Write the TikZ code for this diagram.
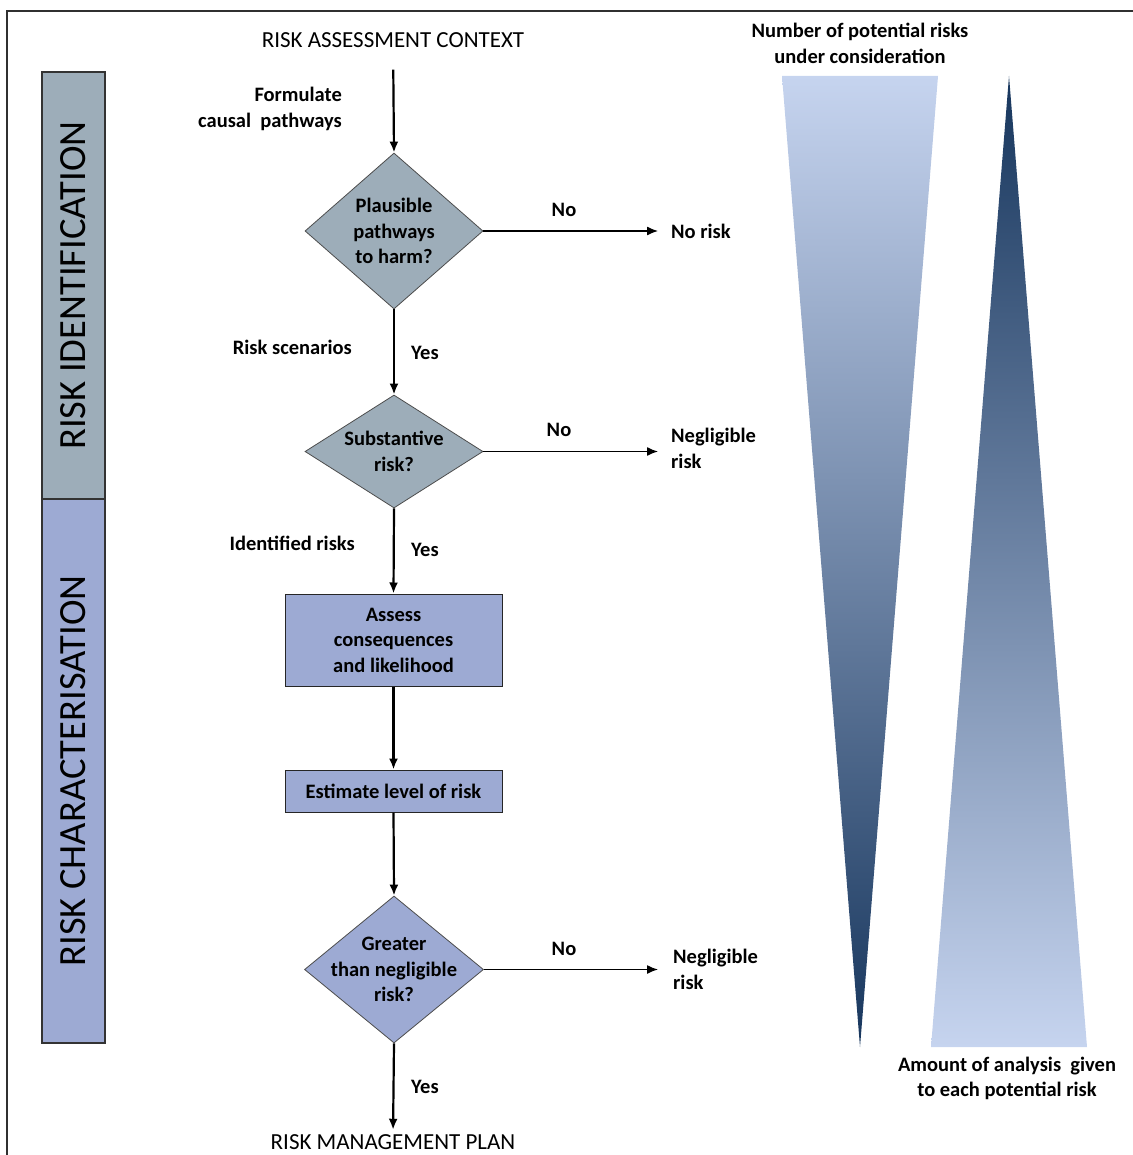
\documentclass[tikz,border=0pt]{standalone}
\usepackage{fontspec}
\setmainfont{Carlito}
\usetikzlibrary{shapes.geometric,arrows.meta}
\definecolor{grayblue}{HTML}{9DADB9}
\definecolor{lav}{HTML}{9DAAD3}
\definecolor{lightgrad}{HTML}{C6D4EF}
\definecolor{darkgrad}{HTML}{17365D}
\definecolor{framec}{HTML}{303030}
\tikzset{
  lbl/.style={font=\bfseries\fontsize{20.5}{25.5}\selectfont, inner sep=0pt, text=black},
  title/.style={font=\fontsize{23}{26}\selectfont, inner sep=0pt},
  dia/.style={diamond, draw=black!70, line width=0.8pt, inner sep=0pt},
  diatext/.style={align=center, inner sep=0pt, font=\bfseries\fontsize{20.5}{25.5}\selectfont},
  boxx/.style={rectangle, draw=black!85, line width=1pt, fill=lav, inner sep=0pt, align=center,
     font=\bfseries\fontsize{20.5}{25.5}\selectfont, minimum width=217pt},
  band/.style={rectangle, draw=black!80, line width=1.2pt, minimum width=63pt, inner sep=0pt},
  bandtext/.style={rotate=90, font=\fontsize{38.5}{40}\selectfont, inner sep=0pt},
  varr/.style={-{Latex[length=11pt,width=9pt]}, line width=2.2pt},
  harr/.style={-{Latex[length=11pt,width=9pt]}, line width=1.3pt},
}
\begin{document}
\begin{tikzpicture}[x=1pt,y=-1pt]
\useasboundingbox (0,0) rectangle (1132,1155);
% frame
\draw[framec, line width=1.5pt] (7,1170) -- (7,11) -- (1150,11);

% bands
\node[band, fill=grayblue, minimum height=427pt] (bandA) at (73.5,285.5) {};
\node[band, fill=lav, minimum height=544pt] (bandB) at (73.5,771) {};
\node[bandtext] (bandAt) at (bandA.center) {RISK IDENTIFICATION};
\node[bandtext] (bandBt) at (bandB.center) {RISK CHARACTERISATION};

% main flow
\node[title] (ctx) at (393,40) {RISK ASSESSMENT CONTEXT};
\node[dia, fill=grayblue, minimum width=178pt, minimum height=156pt] (d1) at (394,231) {};
\node[diatext] (d1t) at (d1.center) {Plausible\\pathways\\to harm?};
\node[dia, fill=grayblue, minimum width=178pt, minimum height=113pt] (d2) at (394,451.5) {};
\node[diatext] (d2t) at (d2.center) {Substantive\\risk?};
\node[boxx, minimum height=92pt] (b1) at (393.5,640) {Assess\\consequences\\and likelihood};
\node[boxx, minimum height=42pt] (b2) at (393.5,791) {Estimate level of risk};
\node[dia, fill=lav, minimum width=179pt, minimum height=147pt] (d3) at (394,969.5) {};
\node[diatext] (d3t) at (d3.center) {Greater\\than negligible\\risk?};
\node[title] (plan) at (393,1142.5) {RISK MANAGEMENT PLAN};

% outcomes
\node[lbl, anchor=west] (norisk) at (671,231) {No risk};
\node[lbl, anchor=west, align=left] (neg1) at (671,448.5) {Negligible\\risk};
\node[lbl, anchor=west, align=left] (neg2) at (673,969.5) {Negligible\\risk};

% connectors
\draw[varr, shorten <=22pt] (ctx) -- (d1.north);
\draw[varr] (d1.south) -- (d2.north);
\draw[varr] (d2.south) -- (b1.north);
\draw[varr] (b1.south) -- (b2.north);
\draw[varr] (b2.south) -- (d3.north);
\draw[varr, shorten >=5pt] (d3.south) -- (plan.north);
\draw[harr, shorten >=13pt] (d1.east) -- (norisk.west);
\draw[harr, shorten >=13pt] (d2.east) -- (d2.east -| neg1.west);
\draw[harr, shorten >=15pt] (d3.east) -- (d3.east -| neg2.west);

% side labels
\node[lbl, anchor=east, align=right] (form) at (342,109) {Formulate\\causal\ \ pathways};
\node[lbl, anchor=east] (rscen) at (352,347) {Risk scenarios};
\node[lbl, anchor=east] (idr) at (355,543) {Identified risks};
\node[lbl, anchor=west] (y1) at (411,353) {Yes};
\node[lbl, anchor=west] (y2) at (411,550) {Yes};
\node[lbl, anchor=west] (y3) at (411,1087) {Yes};
\node[lbl] (n1) at (564,210) {No};
\node[lbl] (n2) at (559,430) {No};
\node[lbl] (n3) at (564,949) {No};

% triangles
\shade[top color=lightgrad, bottom color=darkgrad] (782,76) -- (938,76) -- (860,1047) -- cycle;
\shade[top color=darkgrad, bottom color=lightgrad] (1009,76) -- (1087,1047) -- (931,1047) -- cycle;
\node[lbl, align=center] (numt) at (860,43.5) {Number of potential risks\\under consideration};
\node[lbl, align=center] (amt) at (1007,1078.5) {Amount of analysis\ \ given\\to each potential risk};
\end{tikzpicture}
\end{document}
